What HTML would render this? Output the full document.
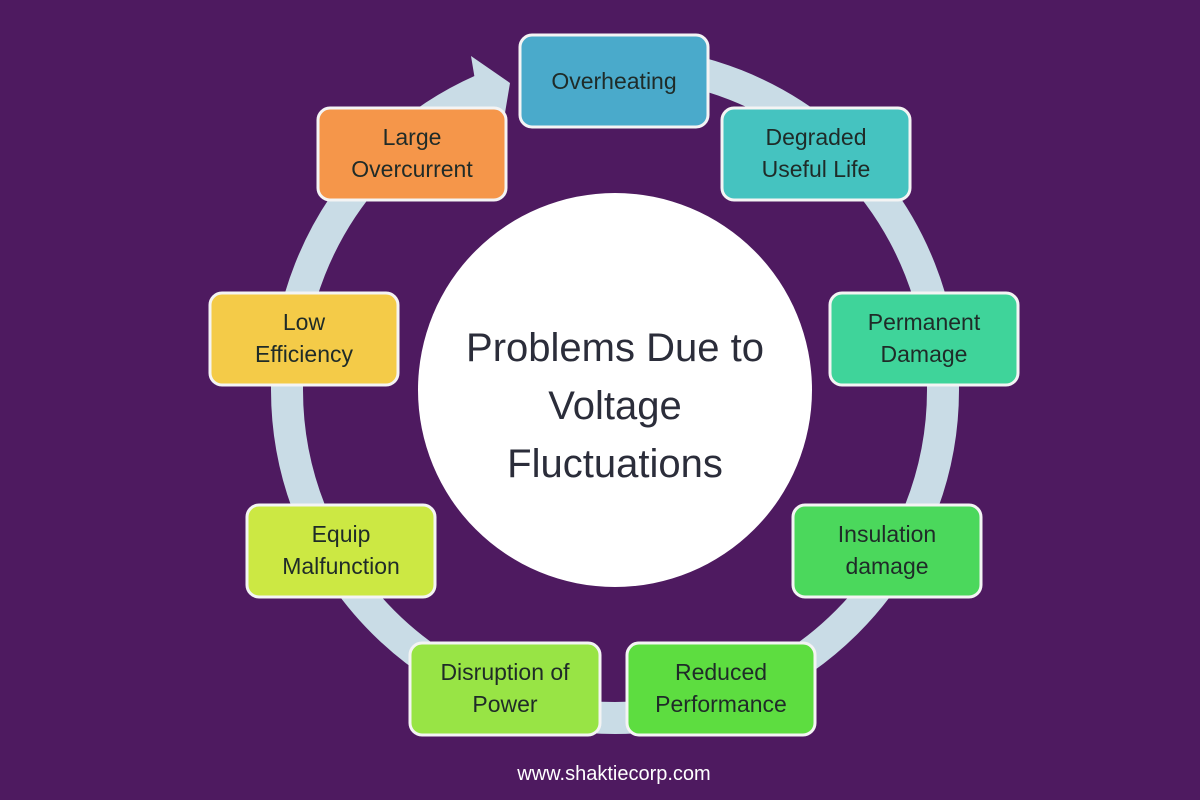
<!DOCTYPE html>
<html><head><meta charset="utf-8"><style>
html,body{margin:0;padding:0;background:#4e1a60;}
svg{display:block}
text{font-family:"Liberation Sans",sans-serif;}
.b{stroke:#f4f4f4;stroke-width:3}
.t{font-size:23px;fill:#1f2b28;text-anchor:middle}
</style></head><body>
<svg width="1200" height="800" viewBox="0 0 1200 800">
<rect width="1200" height="800" fill="#4e1a60"/>
<circle cx="615" cy="390" r="328" fill="none" stroke="#c9dce6" stroke-width="32"/>
<rect x="480" y="40" width="45" height="50" fill="#4e1a60"/>
<rect x="506" y="40" width="19" height="75" fill="#4e1a60"/>
<polygon points="471,56 510,83 503,125 440,125 440,104 476,86" fill="#c9dce6"/>
<circle cx="615" cy="390" r="197" fill="#ffffff"/>
<g font-size="40" fill="#2b2d3a" text-anchor="middle">
<text x="615" y="361">Problems Due to</text>
<text x="615" y="419">Voltage</text>
<text x="615" y="477">Fluctuations</text>
</g>
<rect class="b" x="520" y="35" width="188" height="92" rx="12" fill="#4aaacb"/>
<text class="t" x="614" y="89">Overheating</text>
<rect class="b" x="722" y="108" width="188" height="92" rx="12" fill="#45c3c0"/>
<text class="t" x="816" y="145">Degraded</text><text class="t" x="816" y="177">Useful Life</text>
<rect class="b" x="830" y="293" width="188" height="92" rx="12" fill="#3fd49a"/>
<text class="t" x="924" y="330">Permanent</text><text class="t" x="924" y="362">Damage</text>
<rect class="b" x="793" y="505" width="188" height="92" rx="12" fill="#4bd85c"/>
<text class="t" x="887" y="542">Insulation</text><text class="t" x="887" y="574">damage</text>
<rect class="b" x="627" y="643" width="188" height="92" rx="12" fill="#5ddd40"/>
<text class="t" x="721" y="680">Reduced</text><text class="t" x="721" y="712">Performance</text>
<rect class="b" x="410" y="643" width="190" height="92" rx="12" fill="#98e445"/>
<text class="t" x="505" y="680">Disruption of</text><text class="t" x="505" y="712">Power</text>
<rect class="b" x="247" y="505" width="188" height="92" rx="12" fill="#cce843"/>
<text class="t" x="341" y="542">Equip</text><text class="t" x="341" y="574">Malfunction</text>
<rect class="b" x="210" y="293" width="188" height="92" rx="12" fill="#f4cb48"/>
<text class="t" x="304" y="330">Low</text><text class="t" x="304" y="362">Efficiency</text>
<rect class="b" x="318" y="108" width="188" height="92" rx="12" fill="#f5964a"/>
<text class="t" x="412" y="145">Large</text><text class="t" x="412" y="177">Overcurrent</text>
<text x="614" y="780" font-size="20" fill="#ffffff" text-anchor="middle">www.shaktiecorp.com</text>
</svg>
</body></html>
